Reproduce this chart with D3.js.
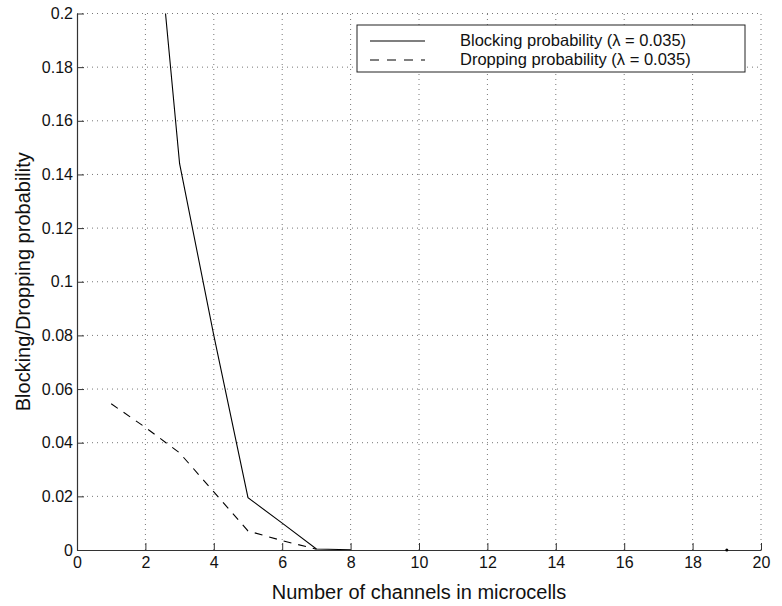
<!DOCTYPE html>
<html>
<head>
<meta charset="utf-8">
<script src="https://cdn.jsdelivr.net/npm/d3@7"></script>
<style>
  body { margin: 0; background: #fff; }
  svg { font-family: "Liberation Sans", Arial, Helvetica, sans-serif; }
</style>
</head>
<body>
<div id="chart"></div>
<script>
// data
var channels = [1, 2, 3, 4, 5, 6, 7, 8];
var blocking = [0.42, 0.28, 0.144, 0.08, 0.0195, 0.0100, 0.0004, 0.0001];
var dropChannels = [1, 2, 3, 4, 5, 6, 7];
var dropping = [0.0545, 0.0457, 0.0362, 0.0217, 0.0071, 0.0035, 0.0003];
var strayPoint = [[19, 0]];

var xTicks = [0, 2, 4, 6, 8, 10, 12, 14, 16, 18, 20];
var yTicks = [0, 0.02, 0.04, 0.06, 0.08, 0.1, 0.12, 0.14, 0.16, 0.18, 0.2];
var legendLabels = ["Blocking probability (\u03bb = 0.035)", "Dropping probability (\u03bb = 0.035)"];

(function(){
var W = 782, H = 606;
var mLeft = 77, mRight = 761, mTop = 13.5, mBottom = 550;

var svg = d3.select("#chart").append("svg")
    .attr("width", W)
    .attr("height", H);

var x = d3.scaleLinear().domain([0, 20]).range([mLeft, mRight]);
var y = d3.scaleLinear().domain([0, 0.2]).range([mBottom, mTop]);

svg.append("defs").append("clipPath")
    .attr("id", "plotclip")
    .append("rect")
    .attr("x", mLeft).attr("y", mTop)
    .attr("width", mRight - mLeft).attr("height", mBottom - mTop);

// dotted grid
svg.append("g").selectAll("line")
    .data(xTicks.slice(1))
    .enter().append("line")
    .attr("x1", function(d){ return x(d); })
    .attr("x2", function(d){ return x(d); })
    .attr("y1", mBottom).attr("y2", mTop)
    .style("stroke", "#777")
    .style("stroke-width", "1px")
    .style("stroke-dasharray", "1,4");

svg.append("g").selectAll("line")
    .data(yTicks.slice(1))
    .enter().append("line")
    .attr("y1", function(d){ return y(d); })
    .attr("y2", function(d){ return y(d); })
    .attr("x1", mLeft).attr("x2", mRight)
    .style("stroke", "#777")
    .style("stroke-width", "1px")
    .style("stroke-dasharray", "1,4");

// axes, ticks pointing inward
var xAxis = svg.append("g")
    .attr("transform", "translate(0," + mBottom + ")")
    .call(d3.axisBottom(x).tickValues(xTicks).tickSizeInner(-7).tickSizeOuter(0).tickPadding(7)
        .tickFormat(d3.format("d")));

var yAxis = svg.append("g")
    .attr("transform", "translate(" + mLeft + ",0)")
    .call(d3.axisLeft(y).tickValues(yTicks).tickSizeInner(-7).tickSizeOuter(0).tickPadding(4)
        .tickFormat(function(d){ return String(+d.toFixed(2)); }));

[xAxis, yAxis].forEach(function(a){
    a.select(".domain").style("stroke", "#333").style("stroke-width", "1.2px");
    a.selectAll(".tick line").style("stroke", "#333");
    a.selectAll(".tick text").style("font-size", "16px").style("fill", "#111")
        .style("font-family", "Liberation Sans, Arial, sans-serif");
});

// series
var line = d3.line()
    .x(function(d){ return x(d[0]); })
    .y(function(d){ return y(d[1]); });

var plot = svg.append("g").attr("clip-path", "url(#plotclip)");

plot.append("path")
    .datum(d3.zip(channels, blocking))
    .attr("d", line)
    .style("fill", "none")
    .style("stroke", "#000")
    .style("stroke-width", "1.1px");

plot.append("path")
    .datum(d3.zip(dropChannels, dropping))
    .attr("d", line)
    .style("fill", "none")
    .style("stroke", "#000")
    .style("stroke-width", "1.1px")
    .style("stroke-dasharray", "8,7");

svg.append("g").selectAll("circle")
    .data(strayPoint)
    .enter().append("circle")
    .attr("cx", function(d){ return x(d[0]); })
    .attr("cy", function(d){ return y(d[1]); })
    .attr("r", 1.5)
    .style("fill", "#000");

// axis titles
svg.append("text")
    .attr("x", (mLeft + mRight) / 2)
    .attr("y", 599)
    .attr("text-anchor", "middle")
    .style("font-size", "20px")
    .style("fill", "#111")
    .text("Number of channels in microcells");

svg.append("text")
    .attr("transform", "translate(30," + (mTop + mBottom) / 2 + ") rotate(-90)")
    .attr("text-anchor", "middle")
    .style("font-size", "20px")
    .style("fill", "#111")
    .text("Blocking/Dropping probability");

// legend
var lg = svg.append("g");
lg.append("rect")
    .attr("x", 357).attr("y", 25)
    .attr("width", 388).attr("height", 47)
    .style("fill", "#fff")
    .style("stroke", "#222")
    .style("stroke-width", "1px");

var legendStyles = ["none", "9,8"];
legendLabels.forEach(function(t, i){
    var ly = 41 + i * 19;
    lg.append("line")
        .attr("x1", 370).attr("x2", 425)
        .attr("y1", ly).attr("y2", ly)
        .style("stroke", "#000")
        .style("stroke-width", "1.1px")
        .style("stroke-dasharray", legendStyles[i]);
    lg.append("text")
        .attr("x", 460).attr("y", ly + 5)
        .style("font-size", "16.5px")
        .style("fill", "#111")
        .text(t);
});
})();
</script>
</body>
</html>
